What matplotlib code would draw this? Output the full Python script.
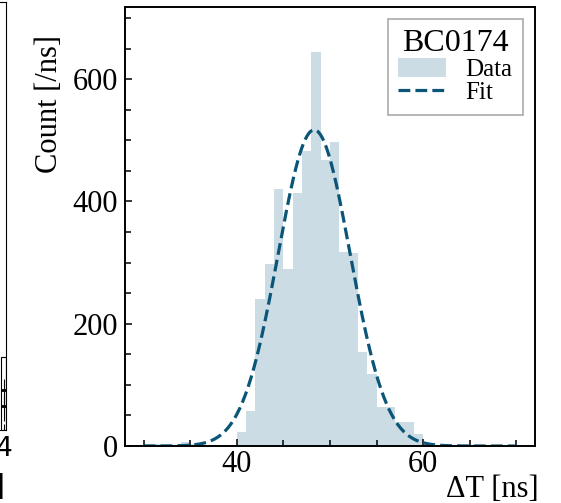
import numpy as np
import matplotlib
matplotlib.use("Agg")
import matplotlib.pyplot as plt
from matplotlib.ticker import MultipleLocator

plt.rcParams['font.family'] = ['Liberation Serif', 'DejaVu Serif']

# histogram of dT, 1 ns bins
bin_left = list(range(30, 70))
counts = [4, 3, 1, 2, 6, 3, 1, 2, 2, 2,
          23, 58, 240, 298, 420, 289, 414, 483, 644, 468,
          498, 317, 315, 154, 117, 64, 64, 39, 39, 20,
          4, 2, 1, 1, 0, 1, 0, 1, 0, 0]

# gaussian fit parameters
fit_amp = 517
fit_mean = 48.3
fit_sigma = 3.87
fit_range = (30, 70)

bar_color = '#cbdce4'
fit_color = '#0a5578'

W, H = 561, 503
fig = plt.figure(figsize=(W / 100, H / 100), dpi=100)

# neighbouring panel, mostly cut off at the left edge
ax0 = fig.add_axes([-300 / W, (H - 430) / H, 306 / W, (430 - 2) / H])
ax0.set_xlim(0, 4.02)
ax0.set_ylim(0, 1)
ax0.bar(3.99, 0.17, bottom=0.0, width=0.06, facecolor='none', edgecolor='black', lw=0.8)
ax0.errorbar([3.99, 3.99], [0.09, 0.05], yerr=[0.03, 0.03], fmt='none', ecolor='black', lw=0.8)
ax0.hlines([0.093, 0.056], 3.96, 4.02, colors='black', lw=2)
ax0.set_xticks([4])
ax0.set_xticklabels(['4'], family='DejaVu Sans', fontsize=19)
ax0.set_yticks([])
ax0.tick_params(axis='x', direction='in', length=4, pad=4)
ax0.set_xlabel('[ns]', family='DejaVu Sans', fontsize=20, loc='right')
ax0.xaxis.set_label_coords(1.0, -0.1)
for s in ax0.spines.values():
    s.set_linewidth(0.8)

# main panel
ax = fig.add_axes([125 / W, (H - 446) / H, 410 / W, (446 - 7) / H])
bars = ax.bar(bin_left, counts, width=1, align='edge', color=bar_color, lw=0, label='Data')

xs = np.linspace(fit_range[0], fit_range[1], 400)
ys = fit_amp * np.exp(-0.5 * ((xs - fit_mean) / fit_sigma) ** 2)
fit_line, = ax.plot(xs, ys, '--', color=fit_color, lw=2.3, label='Fit')

ax.set_xlim(28, 72)
ax.set_ylim(0, 718)
ax.xaxis.set_major_locator(MultipleLocator(20))
ax.xaxis.set_minor_locator(MultipleLocator(5))
ax.yaxis.set_major_locator(MultipleLocator(200))
ax.yaxis.set_minor_locator(MultipleLocator(50))
ax.tick_params(which='both', direction='in', labelsize=22, width=1.1)
ax.tick_params(which='major', length=5)
ax.tick_params(which='minor', length=4)
ax.tick_params(axis='y', pad=5)
ax.tick_params(axis='x', pad=3)
for s in ax.spines.values():
    s.set_linewidth(1.4)

ax.set_xlabel('\u0394T [ns]', fontsize=22, loc='right')
ax.xaxis.set_label_coords(1.008, -0.066)
ax.set_ylabel('Count [/ns]', fontsize=22, loc='top')
ax.yaxis.set_label_coords(-0.148, 0.936)

leg = ax.legend([bars, fit_line], ['Data', 'Fit'], title='BC0174', fontsize=18,
                title_fontsize=23, loc='upper right', bbox_to_anchor=(0.971, 0.973),
                borderaxespad=0, fancybox=False, framealpha=1, edgecolor='#aaaaaa',
                handlelength=1.9, handleheight=0.75, labelspacing=0.0,
                handletextpad=0.8, borderpad=0.42)
leg.get_frame().set_linewidth(1.2)

fig.savefig('out.png', dpi=100)
